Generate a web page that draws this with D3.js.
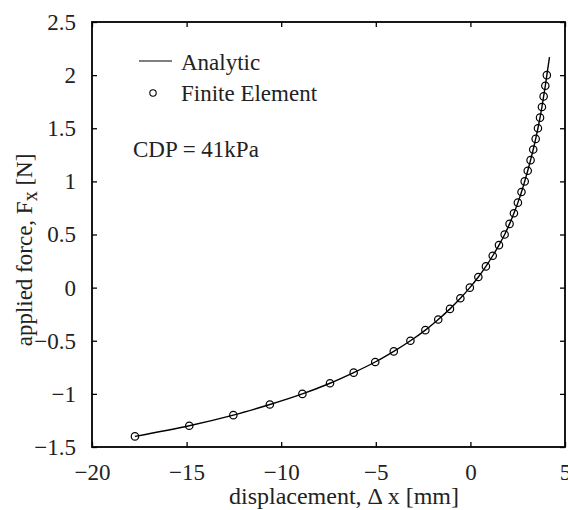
<!DOCTYPE html>
<html>
<head>
<meta charset="utf-8">
<title>Force vs displacement</title>
<script src="https://d3js.org/d3.v7.min.js"></script>
<style>
  body { margin: 0; background: #fff; }
  text { font-family: "Liberation Serif", "Times New Roman", serif; fill: #222; }
</style>
</head>
<body>
<svg id="chart"></svg>
<script>
// finite element points (applied force [N] vs displacement [mm])
let feForce = [-1.4, -1.3, -1.2, -1.1, -1.0, -0.9, -0.8, -0.7, -0.6, -0.5, -0.4, -0.3, -0.2, -0.1,
  0.0, 0.1, 0.2, 0.3, 0.4, 0.5, 0.6, 0.7, 0.8, 0.9, 1.0, 1.1, 1.2, 1.3, 1.4, 1.5, 1.6, 1.7, 1.8, 1.9, 2.0];
let feDisp = [-17.73, -14.86, -12.53, -10.60, -8.88, -7.42, -6.17, -5.03, -4.05, -3.17, -2.38, -1.70, -1.08, -0.53,
  -0.03, 0.42, 0.82, 1.18, 1.51, 1.81, 2.07, 2.30, 2.51, 2.70, 2.87, 3.03, 3.18, 3.32, 3.45, 3.57, 3.68, 3.78, 3.87, 3.96, 4.04];

// analytic curve
let anaForce = [-1.4, -1.3, -1.2, -1.1, -1.0, -0.9, -0.8, -0.7, -0.6, -0.5, -0.4, -0.3, -0.2, -0.1,
  0.0, 0.1, 0.2, 0.3, 0.4, 0.5, 0.6, 0.7, 0.8, 0.9, 1.0, 1.1, 1.2, 1.3, 1.4, 1.5, 1.6, 1.7, 1.8, 1.9, 2.0, 2.17];
let anaDisp = [-17.73, -14.86, -12.53, -10.60, -8.88, -7.42, -6.17, -5.03, -4.05, -3.17, -2.38, -1.70, -1.08, -0.53,
  -0.03, 0.42, 0.82, 1.18, 1.51, 1.81, 2.07, 2.30, 2.51, 2.70, 2.87, 3.03, 3.18, 3.32, 3.45, 3.57, 3.68, 3.78, 3.87, 3.96, 4.04, 4.18];

let xTicks = [-20, -15, -10, -5, 0, 5];
let yTicks = [-1.5, -1, -0.5, 0, 0.5, 1, 1.5, 2, 2.5];

let width = 568, height = 510;
let margin = {top: 22, right: 3, bottom: 63, left: 92};
let plotWidth = width - margin.left - margin.right;
let plotHeight = height - margin.top - margin.bottom;

let svg = d3.select('#chart').attr('width', width).attr('height', height);
let plot = svg.append('g').attr('transform', translate(margin.left, margin.top));

let x = d3.scaleLinear().domain([-20, 5]).range([0, plotWidth]);
let y = d3.scaleLinear().domain([-1.5, 2.5]).range([plotHeight, 0]);

// minus sign like the original
let fmt = d => (d < 0 ? '\u2212' : '') + Math.abs(d);

let fontSize = 23;

let xAxis = plot.append('g').attr('transform', translate(0, plotHeight))
  .call(d3.axisBottom(x).tickValues(xTicks).tickFormat(fmt).tickSize(-5).tickPadding(17));
let yAxis = plot.append('g')
  .call(d3.axisLeft(y).tickValues(yTicks).tickFormat(fmt).tickSize(-5).tickPadding(16));
let xTop = plot.append('g')
  .call(d3.axisTop(x).tickValues(xTicks).tickFormat('').tickSize(-5));
let yRight = plot.append('g').attr('transform', translate(plotWidth, 0))
  .call(d3.axisRight(y).tickValues(yTicks).tickFormat('').tickSize(-5));

[xAxis, yAxis, xTop, yRight].forEach(a => {
  a.select('.domain').remove();
  a.selectAll('.tick line').attr('stroke', '#000').attr('stroke-width', 1.3);
  a.selectAll('text').attr('font-size', fontSize)
    .attr('font-family', '"Liberation Serif", serif').attr('fill', '#222');
});

plot.append('rect')
  .attr('width', plotWidth).attr('height', plotHeight)
  .attr('fill', 'none').attr('stroke', '#000').attr('stroke-width', 1.8);

// analytic line
let anaPts = anaDisp.map((d, i) => [d, anaForce[i]]);
plot.append('path')
  .datum(anaPts)
  .attr('fill', 'none')
  .attr('stroke', '#000')
  .attr('stroke-width', 1.4)
  .attr('d', d3.line().x(d => x(d[0])).y(d => y(d[1])).curve(d3.curveMonotoneY));

// finite element markers
plot.selectAll('circle.fe')
  .data(feDisp.map((d, i) => [d, feForce[i]]))
  .join('circle')
  .attr('class', 'fe')
  .attr('cx', d => x(d[0]))
  .attr('cy', d => y(d[1]))
  .attr('r', 3.7)
  .attr('fill', 'none')
  .attr('stroke', '#000')
  .attr('stroke-width', 1.2);

// legend
let legend = plot.append('g');
legend.append('line')
  .attr('x1', 47).attr('x2', 80).attr('y1', 39).attr('y2', 39)
  .attr('stroke', '#000').attr('stroke-width', 1.2);
legend.append('text').attr('x', 89).attr('y', 48).attr('font-size', fontSize).text('Analytic');
legend.append('circle')
  .attr('cx', 61).attr('cy', 71).attr('r', 3.2)
  .attr('fill', 'none').attr('stroke', '#000').attr('stroke-width', 1.1);
legend.append('text').attr('x', 89).attr('y', 79).attr('font-size', fontSize).text('Finite Element');

plot.append('text').attr('x', 41).attr('y', 135).attr('font-size', fontSize).text('CDP = 41kPa');

// axis labels
svg.append('text')
  .attr('x', 344)
  .attr('y', 504)
  .attr('text-anchor', 'middle')
  .attr('font-size', 24)
  .text('displacement, \u0394 x [mm]');

let yl = svg.append('text')
  .attr('transform', translate(32, 250) + ' rotate(-90)')
  .attr('text-anchor', 'middle')
  .attr('font-size', fontSize);
yl.append('tspan').text('applied force, F');
yl.append('tspan').attr('dy', 5).attr('font-size', 20).text('x');
yl.append('tspan').attr('dy', -5).text(' [N]');

function translate(x, y) {
  return 'translate(' + x + ',' + y + ')';
}
</script>
</body>
</html>
